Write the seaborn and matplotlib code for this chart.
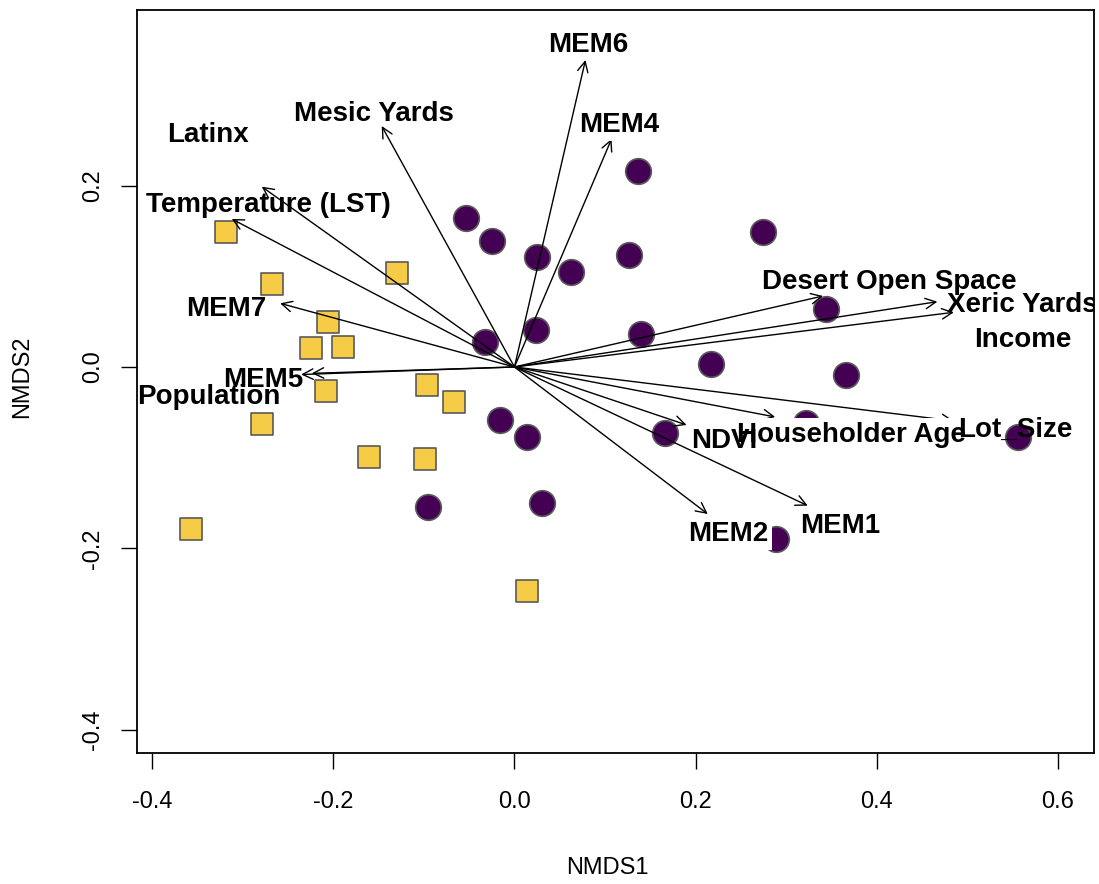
import matplotlib
matplotlib.use("Agg")
import matplotlib.pyplot as plt
import seaborn as sns
import pandas as pd

# ---- data ----
circ_x = [0.1361, -0.0538, -0.0247, 0.0249, 0.0625, 0.1265, 0.2749, 0.3439, -0.0330, 0.0238,
          0.1397, 0.2175, 0.3660, -0.0159, 0.0139, 0.1658, 0.3218, 0.5558, -0.0954, 0.0300, 0.2887]
circ_y = [0.2161, 0.1643, 0.1389, 0.1218, 0.1047, 0.1235, 0.1488, 0.0639, 0.0270, 0.0413,
          0.0364, 0.0033, -0.0083, -0.0584, -0.0772, -0.0728, -0.0617, -0.0772, -0.1549, -0.1499, -0.1896]

sq_x = [-0.3187, -0.1300, -0.2675, -0.2060, -0.2249, -0.1890, -0.2080, -0.0961, -0.0667,
        -0.2790, -0.1600, -0.0987, -0.3570, 0.0136]
sq_y = [0.1485, 0.1033, 0.0920, 0.0500, 0.0213, 0.0224, -0.0265, -0.0198, -0.0390,
        -0.0628, -0.0996, -0.1014, -0.1786, -0.2473]

vec_names = ["MEM6", "MEM4", "Mesic Yards", "Latinx", "Temperature (LST)", "MEM7", "MEM5",
             "Population", "Desert Open Space", "Xeric Yards", "Income", "Lot_Size",
             "Householder Age", "NDVI", "MEM1", "MEM2"]
vec_x = [0.0784, 0.1072, -0.1465, -0.2789, -0.3120, -0.2587, -0.2237, -0.2355, 0.3406, 0.4668,
         0.4850, 0.4850, 0.2878, 0.1900, 0.3237, 0.2134]
vec_y = [0.3385, 0.2514, 0.2657, 0.1988, 0.1632, 0.0702, -0.0070, -0.0083, 0.0783, 0.0720,
         0.0603, -0.0595, -0.0551, -0.0639, -0.1529, -0.1621]

# label positions (x centre, baseline)
lab_x = [0.0819, 0.1151, -0.1553, -0.3379, -0.2716, -0.3180, -0.2771, -0.3373, 0.4139, 0.5608,
         0.5613, 0.5530, 0.3721, 0.2317, 0.3598, 0.2364]
lab_y = [0.3473, 0.2591, 0.2715, 0.2484, 0.1712, 0.0562, -0.0217, -0.0408, 0.0857, 0.0603,
         0.0224, -0.0768, -0.0823, -0.0897, -0.1834, -0.1918]

x_ticks = [-0.4, -0.2, 0.0, 0.2, 0.4, 0.6]
y_ticks = [-0.4, -0.2, 0.0, 0.2]

circles = pd.DataFrame({"NMDS1": circ_x, "NMDS2": circ_y})
squares = pd.DataFrame({"NMDS1": sq_x, "NMDS2": sq_y})

sns.set_style("white")
plt.rcParams["font.family"] = ["Liberation Sans", "DejaVu Sans"]

fig = plt.figure(figsize=(10.99, 8.84), dpi=100)
ax = fig.add_axes([137 / 1099, 1 - 753 / 884, (1094 - 137) / 1099, (753 - 10) / 884])

sns.scatterplot(data=circles, x="NMDS1", y="NMDS2", ax=ax, marker="o", s=340,
                color="#440154", edgecolor="#5a5a5a", linewidth=1.2, zorder=2)
sns.scatterplot(data=squares, x="NMDS1", y="NMDS2", ax=ax, marker="s", s=245,
                color="#F6CB45", edgecolor="#5a5a5a", linewidth=1.2, zorder=2)

for vx, vy in zip(vec_x, vec_y):
    ax.annotate("", xy=(vx, vy), xytext=(0, 0),
                arrowprops=dict(arrowstyle="->,head_length=0.5,head_width=0.25",
                                mutation_scale=15, lw=1.0, color="black",
                                shrinkA=0, shrinkB=0), zorder=3)

boxed = {"MEM4", "MEM2", "Householder Age"}
order = {"Householder Age": 4, "NDVI": 5, "Lot_Size": 5}
for name, lx, ly in zip(vec_names, lab_x, lab_y):
    kw = {}
    if name in boxed:
        kw["bbox"] = dict(boxstyle="square,pad=0.12", fc="white", ec="none")
    ax.text(lx, ly, name, ha="center", va="baseline", fontsize=20, fontweight="bold",
            color="black", zorder=order.get(name, 6), clip_on=True, **kw)

ax.set_xlim(-0.4166, 0.6397)
ax.set_ylim(-0.4256, 0.3936)
ax.set_xticks(x_ticks)
ax.set_yticks(y_ticks)
ax.set_xticklabels([f"{t:.1f}" for t in x_ticks])
ax.set_yticklabels([f"{t:.1f}" for t in y_ticks], rotation=90, va="center")

for sp in ax.spines.values():
    sp.set_visible(True)
    sp.set_color("black")
    sp.set_linewidth(1.3)

ax.tick_params(axis="both", direction="out", length=11.5, width=1.0, color="black",
               labelsize=17, labelcolor="black")
ax.tick_params(axis="x", pad=16, bottom=True)
ax.tick_params(axis="y", pad=12, left=True)

ax.set_xlabel("NMDS1", fontsize=17, color="black")
ax.set_ylabel("NMDS2", fontsize=17, color="black")
ax.xaxis.set_label_coords(0.491, -0.1548)
ax.xaxis.label.set_va("center")
ax.yaxis.set_label_coords(-0.1202, 0.507)
ax.yaxis.label.set_va("center")

fig.savefig("out.png", dpi=100)
